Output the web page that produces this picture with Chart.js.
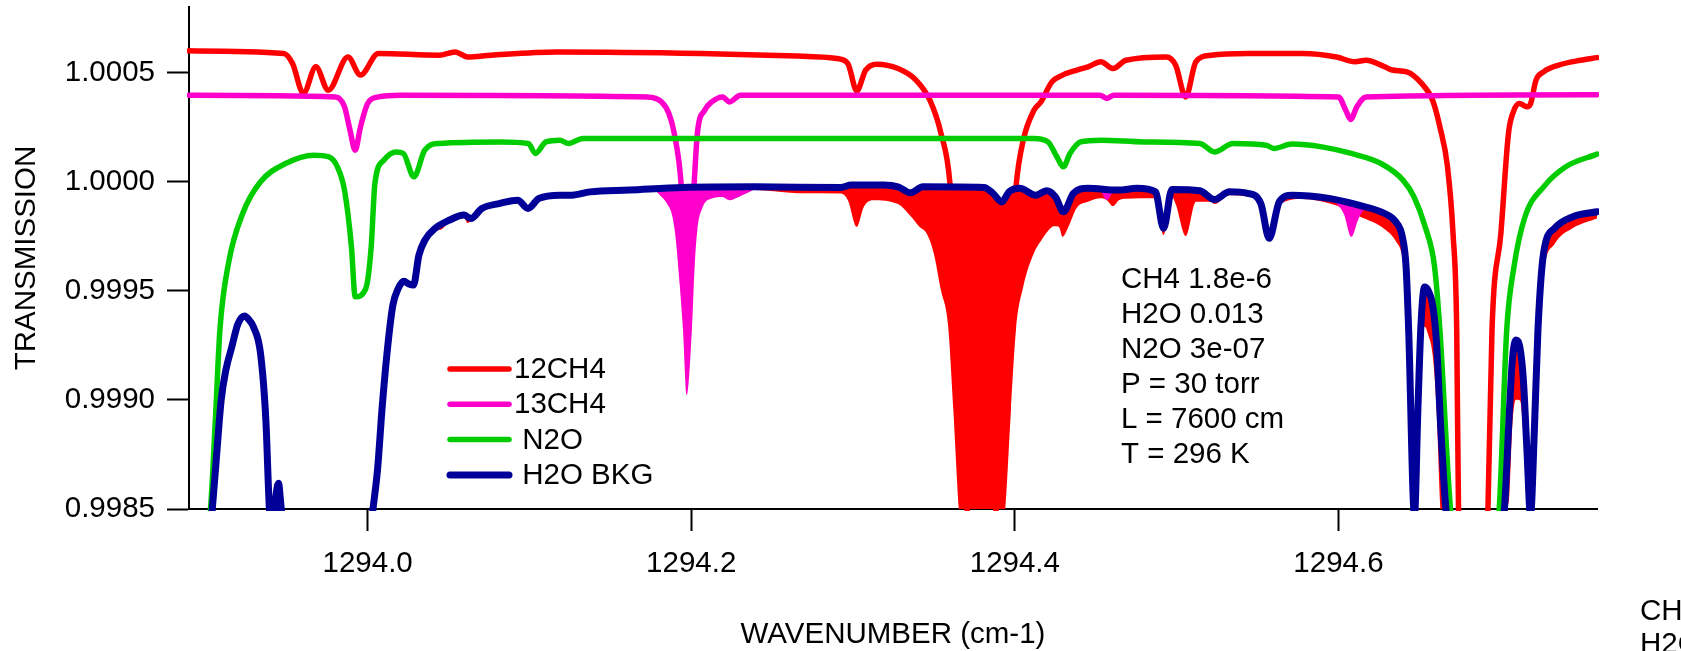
<!DOCTYPE html>
<html>
<head>
<meta charset="utf-8">
<script src="https://cdn.jsdelivr.net/npm/chart.js@4"></script>
<style>
  html, body { margin: 0; padding: 0; background: #fff; }
  #chart { display: block; }
</style>
</head>
<body>
<canvas id="chart" width="1681" height="651"></canvas>
<script>
// axis setup
const xTicks = [1294.0, 1294.2, 1294.4, 1294.6];
const yTicks = [0.9985, 0.9990, 0.9995, 1.0000, 1.0005];
const xRange = [1293.8896, 1294.7598];
const yRange = [0.9985, 1.0008];

const seriesNames = ['12CH4', '13CH4', 'N2O', 'H2O BKG'];
const legendLabels = ['12CH4', '13CH4', ' N2O', ' H2O BKG'];
const seriesColors = ['#ff0000', '#ff00cc', '#00cc00', '#000099'];
const notes = ['CH4 1.8e-6', 'H2O 0.013', 'N2O 3e-07', 'P = 30 torr', 'L = 7600 cm', 'T = 296 K'];

// 12CH4 (offset trace, top)
const wn12 = [1293.8896, 1293.9481, 1293.9536, 1293.9603, 1293.9680, 1293.9757, 1293.9878, 1293.9956, 1294.0066, 1294.0441,
  1294.0540, 1294.0618, 1294.0762, 1294.1170, 1294.2060, 1294.2658, 1294.2901, 1294.2968, 1294.3023, 1294.3078,
  1294.3145, 1294.3278, 1294.3389, 1294.3475, 1294.3543, 1294.3599, 1294.3630, 1294.3654, 1294.3797, 1294.3941,
  1294.3973, 1294.4007, 1294.4052, 1294.4118, 1294.4161, 1294.4229, 1294.4295, 1294.4384, 1294.4452, 1294.4532,
  1294.4606, 1294.4687, 1294.4937, 1294.4994, 1294.5056, 1294.5119, 1294.5212, 1294.5441, 1294.5781, 1294.5988,
  1294.6102, 1294.6170, 1294.6286, 1294.6331, 1294.6423, 1294.6514, 1294.6582, 1294.6627, 1294.6674, 1294.6708,
  1294.6731, 1294.6742, 1294.6831, 1294.6924, 1294.6949, 1294.7004, 1294.7051, 1294.7085, 1294.7119, 1294.7165,
  1294.7188, 1294.7221, 1294.7268, 1294.7357, 1294.7496, 1294.7598];
const tr12 = [1.000599, 1.000587, 1.000541, 1.000404, 1.000526, 1.000419, 1.000571, 1.000488, 1.000587, 1.000579,
  1.000594, 1.000571, 1.000579, 1.000594, 1.000587, 1.000575, 1.000564, 1.000541, 1.000416, 1.000511,
  1.000538, 1.000518, 1.000465, 1.000373, 1.000222, 0.999992, 0.999595, 0.999123, 0.998000, 0.999123,
  0.999595, 0.999976, 1.000190, 1.000327, 1.000365, 1.000457, 1.000488, 1.000511, 1.000526, 1.000549,
  1.000518, 1.000556, 1.000571, 1.000533, 1.000388, 1.000549, 1.000579, 1.000587, 1.000587, 1.000571,
  1.000549, 1.000556, 1.000526, 1.000511, 1.000503, 1.000450, 1.000373, 1.000251, 1.000068, 0.999764,
  0.999320, 0.998504, 0.997800, 0.998504, 0.999320, 0.999764, 1.000222, 1.000327, 1.000358, 1.000343,
  1.000358, 1.000465, 1.000503, 1.000533, 1.000556, 1.000568];

// 13CH4 (offset trace)
const wn13 = [1293.8896, 1293.9802, 1293.9857, 1293.9891, 1293.9923, 1293.9956, 1294.0000, 1294.0066, 1294.0200, 1294.1729,
  1294.1817, 1294.1862, 1294.1895, 1294.1939, 1294.1975, 1294.2017, 1294.2038, 1294.2083, 1294.2127, 1294.2193,
  1294.2237, 1294.2304, 1294.4526, 1294.4569, 1294.4612, 1294.6000, 1294.6045, 1294.6075, 1294.6114, 1294.6170,
  1294.7598];
const tr13 = [1.000396, 1.000388, 1.000343, 1.000236, 1.000144, 1.000251, 1.000358, 1.000388, 1.000396, 1.000388,
  1.000365, 1.000312, 1.000221, 0.999976, 0.999439, 0.999976, 1.000221, 1.000327, 1.000365, 1.000388,
  1.000365, 1.000396, 1.000396, 1.000381, 1.000396, 1.000388, 1.000327, 1.000285, 1.000343, 1.000388,
  1.000398];

// N2O (offset trace)
const wnN2O = [1293.8896, 1293.9029, 1293.9059, 1293.9087, 1293.9140, 1293.9228, 1293.9338, 1293.9493, 1293.9668, 1293.9757,
  1293.9813, 1293.9857, 1293.9900, 1293.9923, 1293.9989, 1294.0022, 1294.0045, 1294.0100, 1294.0177, 1294.0221,
  1294.0286, 1294.0353, 1294.0441, 1294.0818, 1294.0993, 1294.1037, 1294.1102, 1294.1188, 1294.1242, 1294.1331,
  1294.4118, 1294.4205, 1294.4260, 1294.4300, 1294.4341, 1294.4406, 1294.4532, 1294.4798, 1294.5143, 1294.5234,
  1294.5348, 1294.5554, 1294.5600, 1294.5713, 1294.5897, 1294.6080, 1294.6263, 1294.6399, 1294.6467, 1294.6536,
  1294.6594, 1294.6627, 1294.6692, 1294.6844, 1294.6994, 1294.7040, 1294.7085, 1294.7153, 1294.7268, 1294.7405,
  1294.7598];
const trN2O = [0.997800, 0.998500, 0.998908, 0.999320, 0.999625, 0.999854, 0.999999, 1.000083, 1.000121, 1.000114,
  1.000068, 0.999961, 0.999701, 0.999472, 0.999511, 0.999701, 0.999992, 1.000098, 1.000136, 1.000129,
  1.000022, 1.000144, 1.000175, 1.000182, 1.000175, 1.000129, 1.000182, 1.000190, 1.000175, 1.000198,
  1.000198, 1.000182, 1.000114, 1.000068, 1.000129, 1.000182, 1.000190, 1.000182, 1.000175, 1.000136,
  1.000175, 1.000167, 1.000152, 1.000172, 1.000159, 1.000129, 1.000083, 1.000007, 0.999930, 0.999793,
  0.999610, 0.999320, 0.998504, 0.997800, 0.998504, 0.999320, 0.999610, 0.999839, 0.999976, 1.000068,
  1.000126];

// H2O background
const wnH2O = [1293.8896, 1293.8994, 1293.9040, 1293.9062, 1293.9095, 1293.9124, 1293.9161, 1293.9198, 1293.9239, 1293.9273,
  1293.9294, 1293.9338, 1293.9371, 1293.9393, 1293.9412, 1293.9433, 1293.9449, 1293.9464, 1293.9483, 1293.9767,
  1294.0014, 1294.0033, 1294.0061, 1294.0091, 1294.0125, 1294.0156, 1294.0190, 1294.0224, 1294.0255, 1294.0283,
  1294.0317, 1294.0354, 1294.0419, 1294.0507, 1294.0595, 1294.0638, 1294.0706, 1294.0818, 1294.0927, 1294.0991,
  1294.1059, 1294.1188, 1294.1263, 1294.1374, 1294.1618, 1294.1949, 1294.2392, 1294.2923, 1294.2990, 1294.3189,
  1294.3278, 1294.3355, 1294.3432, 1294.3809, 1294.3865, 1294.3919, 1294.3964, 1294.4030, 1294.4129, 1294.4196,
  1294.4251, 1294.4300, 1294.4362, 1294.4450, 1294.4640, 1294.4755, 1294.4869, 1294.4919, 1294.4971, 1294.5143,
  1294.5234, 1294.5326, 1294.5440, 1294.5520, 1294.5572, 1294.5634, 1294.5714, 1294.5942, 1294.6125, 1294.6286,
  1294.6354, 1294.6395, 1294.6418, 1294.6434, 1294.6470, 1294.6491, 1294.6510, 1294.6532, 1294.6556, 1294.6582,
  1294.6605, 1294.6633, 1294.6664, 1294.6844, 1294.7026, 1294.7054, 1294.7075, 1294.7097, 1294.7122, 1294.7143,
  1294.7165, 1294.7187, 1294.7211, 1294.7233, 1294.7268, 1294.7336, 1294.7449, 1294.7598];
const trH2O = [0.997800, 0.998084, 0.998500, 0.998702, 0.999000, 0.999137, 0.999244, 0.999347, 0.999384, 0.999361,
  0.999335, 0.999213, 0.998908, 0.998500, 0.998400, 0.998560, 0.998618, 0.998519, 0.998380, 0.997800,
  0.998380, 0.998500, 0.998679, 0.998977, 0.999251, 0.999434, 0.999512, 0.999544, 0.999531, 0.999526,
  0.999663, 0.999732, 0.999787, 0.999824, 0.999847, 0.999831, 0.999877, 0.999900, 0.999915, 0.999877,
  0.999923, 0.999938, 0.999938, 0.999953, 0.999961, 0.999973, 0.999976, 0.999973, 0.999984, 0.999984,
  0.999976, 0.999949, 0.999976, 0.999973, 0.999946, 0.999907, 0.999953, 0.999969, 0.999938, 0.999958,
  0.999930, 0.999862, 0.999946, 0.999969, 0.999961, 0.999969, 0.999953, 0.999786, 0.999964, 0.999958,
  0.999918, 0.999953, 0.999946, 0.999900, 0.999740, 0.999907, 0.999938, 0.999923, 0.999892, 0.999854,
  0.999816, 0.999747, 0.999610, 0.999320, 0.998472, 0.998954, 0.999343, 0.999517, 0.999499, 0.999434,
  0.999274, 0.998862, 0.998500, 0.997500, 0.998500, 0.998908, 0.999183, 0.999274, 0.999238, 0.999091,
  0.998770, 0.998472, 0.998862, 0.999320, 0.999673, 0.999786, 0.999839, 0.999862];

// total with 12CH4 (filled down from the H2O trace)
const wnTot12 = [1294.0033, 1294.0091, 1294.0156, 1294.0190, 1294.0224, 1294.0255, 1294.0283, 1294.0317, 1294.0354, 1294.0419,
  1294.0453, 1294.0507, 1294.0595, 1294.0618, 1294.0638, 1294.0706, 1294.0818, 1294.0927, 1294.0991, 1294.1059,
  1294.1188, 1294.1374, 1294.1618, 1294.1949, 1294.2392, 1294.2658, 1294.2923, 1294.2968, 1294.3023, 1294.3067,
  1294.3123, 1294.3278, 1294.3355, 1294.3410, 1294.3454, 1294.3499, 1294.3543, 1294.3587, 1294.3620, 1294.3654,
  1294.3797, 1294.3941, 1294.3976, 1294.4007, 1294.4052, 1294.4118, 1294.4161, 1294.4229, 1294.4251, 1294.4273,
  1294.4295, 1294.4328, 1294.4384, 1294.4452, 1294.4532, 1294.4569, 1294.4606, 1294.4643, 1294.4687, 1294.4869,
  1294.4919, 1294.4971, 1294.4994, 1294.5056, 1294.5119, 1294.5212, 1294.5234, 1294.5326, 1294.5441, 1294.5520,
  1294.5572, 1294.5634, 1294.5781, 1294.5988, 1294.6125, 1294.6286, 1294.6354, 1294.6395, 1294.6418, 1294.6434,
  1294.6459, 1294.6470, 1294.6491, 1294.6510, 1294.6532, 1294.6556, 1294.6582, 1294.6605, 1294.6630, 1294.6844,
  1294.7035, 1294.7054, 1294.7075, 1294.7097, 1294.7122, 1294.7143, 1294.7164, 1294.7187, 1294.7211, 1294.7233,
  1294.7268, 1294.7336, 1294.7449, 1294.7598];
const trTot12 = [0.998500, 0.998977, 0.999434, 0.999512, 0.999544, 0.999531, 0.999526, 0.999663, 0.999732, 0.999778,
  0.999780, 0.999819, 0.999837, 0.999810, 0.999819, 0.999874, 0.999897, 0.999911, 0.999874, 0.999918,
  0.999931, 0.999945, 0.999952, 0.999963, 0.999961, 0.999947, 0.999945, 0.999915, 0.999793, 0.999885,
  0.999915, 0.999897, 0.999842, 0.999793, 0.999763, 0.999671, 0.999503, 0.999343, 0.998954, 0.998500,
  0.997600, 0.998500, 0.998954, 0.999320, 0.999518, 0.999673, 0.999728, 0.999792, 0.999796, 0.999792,
  0.999747, 0.999787, 0.999881, 0.999908, 0.999924, 0.999915, 0.999888, 0.999915, 0.999922, 0.999924,
  0.999755, 0.999929, 0.999897, 0.999750, 0.999908, 0.999908, 0.999897, 0.999938, 0.999931, 0.999885,
  0.999725, 0.999892, 0.999920, 0.999890, 0.999842, 0.999782, 0.999728, 0.999654, 0.999512, 0.999215,
  0.998500, 0.998358, 0.998816, 0.999194, 0.999336, 0.999295, 0.999208, 0.998979, 0.998500, 0.997500,
  0.998500, 0.998542, 0.998887, 0.999000, 0.998997, 0.998841, 0.998500, 0.998221, 0.998679, 0.999194,
  0.999576, 0.999714, 0.999787, 0.999831];

// total with 13CH4 (only where it departs from the H2O trace)
const wnTot13 = [1294.1683, 1294.1776, 1294.1817, 1294.1850, 1294.1884, 1294.1905, 1294.1928, 1294.1949, 1294.1972, 1294.2004,
  1294.2021, 1294.2038, 1294.2072, 1294.2127, 1294.2193, 1294.2237, 1294.2293, 1294.2425, 1294.3000,
  1294.4526, 1294.4569, 1294.4612, 1294.5000,
  1294.5942, 1294.5997, 1294.6034, 1294.6080, 1294.6125, 1294.6170, 1294.6207];
const trTot13 = [0.999963, 0.999956, 0.999930, 0.999900, 0.999839, 0.999732, 0.999534, 0.999320, 0.999022, 0.999320,
  0.999610, 0.999778, 0.999885, 0.999923, 0.999930, 0.999915, 0.999930, 0.999976, null,
  0.999966, 0.999915, 0.999961, null,
  0.999923, 0.999892, 0.999851, 0.999747, 0.999831, 0.999876, 0.999874];

const FONT = '"Liberation Sans", Arial, sans-serif';
const FS = 29.5;
Chart.defaults.font.family = FONT;
Chart.defaults.font.size = FS;
Chart.defaults.color = '#000';

function pts(xs, ys) {
  return xs.map((x, i) => ({ x: x, y: ys[i] }));
}

function trace(label, xs, ys, color, width, order) {
  return {
    label: label,
    data: pts(xs, ys),
    borderColor: color,
    backgroundColor: color,
    borderWidth: width,
    pointRadius: 0,
    fill: false,
    order: order,
    clip: 2,
    borderCapStyle: 'round',
    borderJoinStyle: 'round'
  };
}

const H2O_INDEX = 3;

const datasets = [
  trace(seriesNames[0], wn12, tr12, seriesColors[0], 5.5, 3),
  trace(seriesNames[1], wn13, tr13, seriesColors[1], 5.5, 2),
  trace(seriesNames[2], wnN2O, trN2O, seriesColors[2], 5.5, 1),
  trace(seriesNames[3], wnH2O, trH2O, seriesColors[3], 7, 0),
  {
    label: 'total 12CH4',
    data: pts(wnTot12, trTot12),
    borderWidth: 0,
    pointRadius: 0,
    backgroundColor: seriesColors[0],
    fill: { target: H2O_INDEX, above: seriesColors[0], below: seriesColors[0] },
    order: 5
  },
  {
    label: 'total 13CH4',
    data: pts(wnTot13, trTot13),
    borderWidth: 0,
    pointRadius: 0,
    spanGaps: false,
    backgroundColor: seriesColors[1],
    fill: { target: H2O_INDEX, above: seriesColors[1], below: seriesColors[1] },
    order: 4
  }
];

// legend + parameter text, drawn inside the plot like the original
const textPlugin = {
  id: 'plotText',
  afterDraw(chart) {
    const ctx = chart.ctx;
    ctx.save();
    ctx.font = FS + 'px ' + FONT;
    ctx.fillStyle = '#000';
    ctx.textAlign = 'left';
    ctx.textBaseline = 'middle';

    for (let i = 0; i < legendLabels.length; i++) {
      const y = 369 + i * 35.3;
      const ds = chart.data.datasets[i];
      ctx.strokeStyle = ds.borderColor;
      ctx.lineWidth = ds.borderWidth;
      ctx.lineCap = 'round';
      ctx.beginPath();
      ctx.moveTo(450, y);
      ctx.lineTo(509, y);
      ctx.stroke();
      ctx.fillText(legendLabels[i], 514, y + 1);
    }

    notes.forEach((t, i) => ctx.fillText(t, 1121, 280 + i * 35));
    // second copy of the block, cut off by the right edge
    notes.slice(0, 2).forEach((t, i) => ctx.fillText(t, 1640, 612 + i * 33));
    ctx.restore();
  }
};

new Chart(document.getElementById('chart'), {
  type: 'line',
  data: { datasets: datasets },
  plugins: [textPlugin],
  options: {
    responsive: false,
    devicePixelRatio: 1,
    animation: false,
    spanGaps: false,
    elements: {
      line: { cubicInterpolationMode: 'monotone', capBezierPoints: false }
    },
    layout: { padding: { left: 0, right: 84, top: 7, bottom: 0 } },
    plugins: {
      legend: { display: false },
      tooltip: { enabled: false },
      filler: { propagate: false }
    },
    scales: {
      x: {
        type: 'linear',
        position: 'bottom',
        min: xRange[0],
        max: xRange[1],
        grid: { display: true, drawOnChartArea: false, drawTicks: true, tickLength: 22, tickWidth: 2, tickColor: '#000' },
        border: { display: true, color: '#000', width: 2 },
        ticks: { color: '#000', padding: 15, maxRotation: 0, autoSkip: false, callback: v => v.toFixed(1) },
        afterBuildTicks: s => { s.ticks = xTicks.map(v => ({ value: v })); },
        afterFit: s => { s.height = 142; s.paddingLeft = 0; s.paddingRight = 0; },
        title: {
          display: true,
          text: 'WAVENUMBER (cm-1)',
          color: '#000',
          font: { size: FS, lineHeight: 1 },
          padding: { top: 0, bottom: 1 }
        }
      },
      y: {
        type: 'linear',
        position: 'left',
        min: yRange[0],
        max: yRange[1],
        grid: { display: true, drawOnChartArea: false, drawTicks: true, tickLength: 22, tickWidth: 2, tickColor: '#000' },
        border: { display: true, color: '#000', width: 2 },
        ticks: { color: '#000', padding: 12, autoSkip: false, callback: v => v.toFixed(4) },
        afterBuildTicks: s => { s.ticks = yTicks.map(v => ({ value: v })); },
        afterFit: s => { s.width = 189; s.paddingTop = 0; s.paddingBottom = 0; },
        title: {
          display: true,
          text: 'TRANSMISSION',
          color: '#000',
          font: { size: FS, lineHeight: 1 },
          padding: { top: 12, bottom: 0 }
        }
      }
    }
  }
});
</script>
</body>
</html>
